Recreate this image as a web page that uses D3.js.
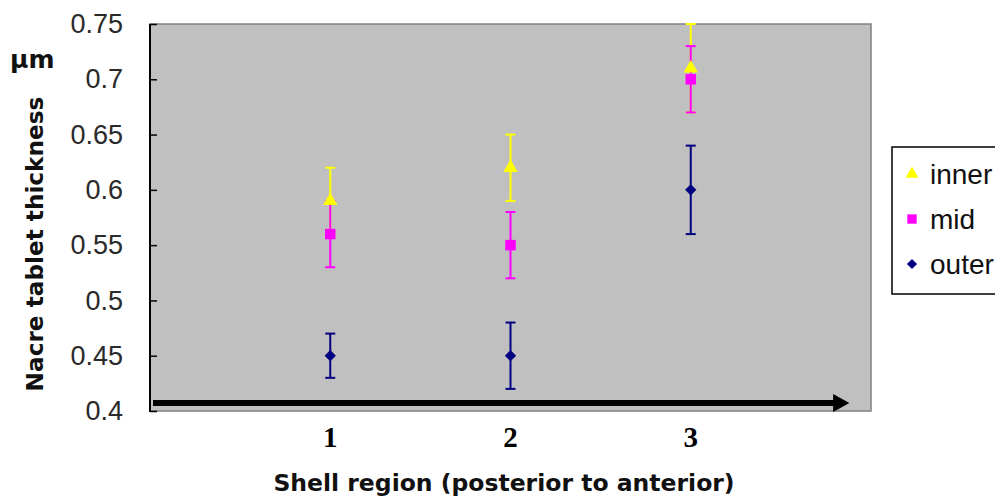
<!DOCTYPE html>
<html>
<head>
<meta charset="utf-8">
<script src="https://cdn.jsdelivr.net/npm/d3@7"></script>
<style>
  body { margin: 0; background: #fff; }
  svg { display: block; }
</style>
</head>
<body>
<svg id="chart" width="995" height="498"></svg>
<script>
// donnees
const regions = [1, 2, 3];
const xLabels = ["1", "2", "3"];
const yTicks = [0.4, 0.45, 0.5, 0.55, 0.6, 0.65, 0.7, 0.75];

const seriesNames = ["inner", "mid", "outer"];
const innerVals = [0.59, 0.62, 0.71];
const innerErr = [0.03, 0.03, 0.04];
const midVals = [0.56, 0.55, 0.70];
const midErr = [0.03, 0.03, 0.03];
const outerVals = [0.45, 0.45, 0.60];
const outerErr = [0.02, 0.03, 0.04];

const colors = ["#ffff00", "#ff00ff", "#000080"];
const symbols = [d3.symbolTriangle, d3.symbolSquare, d3.symbolSquare];
const symSizes = [90, 110, 64];
const symRot = [0, 0, 45]; // losange = carre tourne

// zone du graphe
var margin = {top: 24, right: 124, bottom: 87, left: 150};
var W = 995, H = 498;

const svg = d3.select("#chart");

const x = d3.scaleLinear().domain([0, 4]).range([margin.left, W - margin.right]);
const y = d3.scaleLinear().domain([0.4, 0.75]).range([H - margin.bottom, margin.top]);

// fond gris
svg.append("rect")
  .attr("x", x(0)).attr("y", y(0.75))
  .attr("width", x(4) - x(0)).attr("height", y(0.4) - y(0.75))
  .attr("fill", "#c0c0c0")
  .attr("stroke", "#808080").attr("stroke-width", 1.5);

// axe y, ticks vers l'interieur
const yAxis = svg.append("g")
  .attr("transform", `translate(${x(0)},0)`)
  .call(d3.axisLeft(y).tickValues(yTicks).tickSize(-7).tickPadding(27).tickFormat(d => String(d)));
yAxis.select(".domain").remove();
yAxis.selectAll(".tick line").attr("stroke", "#000").attr("stroke-width", 1.5);
yAxis.selectAll(".tick text")
  .attr("font-family", "'Liberation Sans', Arial, sans-serif")
  .attr("font-size", 27).attr("fill", "#2a2a2a");

svg.append("line")
  .attr("x1", x(0)).attr("x2", x(0))
  .attr("y1", y(0.75)).attr("y2", y(0.4) + 1)
  .attr("stroke", "#000").attr("stroke-width", 2);

// fleche le long de l'axe x
const arrowY = y(0.4) - 8;
svg.append("line")
  .attr("x1", x(0) + 3).attr("x2", x(3.8))
  .attr("y1", arrowY).attr("y2", arrowY)
  .attr("stroke", "#000").attr("stroke-width", 6);
svg.append("path")
  .attr("d", `M${x(3.79)},${arrowY - 9} L${x(3.88)},${arrowY} L${x(3.79)},${arrowY + 9} Z`)
  .attr("fill", "#000");

// labels x
svg.selectAll(".xlab")
  .data(regions)
  .enter()
  .append("text")
  .attr("class", "xlab")
  .attr("x", d => x(d))
  .attr("y", 447)
  .attr("text-anchor", "middle")
  .attr("font-family", "'Liberation Serif', 'Times New Roman', serif")
  .attr("font-weight", "bold")
  .attr("font-size", 29)
  .text((d, i) => xLabels[i]);

svg.append("text")
  .attr("x", 504).attr("y", 491)
  .attr("text-anchor", "middle")
  .attr("font-family", "'DejaVu Sans', sans-serif")
  .attr("font-weight", "bold")
  .attr("font-size", 23.5)
  .attr("fill", "#111")
  .text("Shell region (posterior to anterior)");

svg.append("text")
  .attr("transform", "translate(43,244) rotate(-90)")
  .attr("text-anchor", "middle")
  .attr("font-family", "'DejaVu Sans', sans-serif")
  .attr("font-weight", "bold")
  .attr("font-size", 23.2)
  .attr("fill", "#111")
  .text("Nacre tablet thickness");

svg.append("text")
  .attr("x", 10).attr("y", 68)
  .attr("font-family", "'DejaVu Sans', sans-serif")
  .attr("font-weight", "bold")
  .attr("font-size", 25)
  .attr("fill", "#111")
  .text("µm");

// series
const series = [
  {vals: innerVals, err: innerErr},
  {vals: midVals, err: midErr},
  {vals: outerVals, err: outerErr}
];

const capW = 5;
series.forEach(function(s, k){
  const g = svg.append("g").attr("class", "err-" + seriesNames[k]);
  const pts = regions.map((r, i) => ({r: r, v: s.vals[i], e: s.err[i]}));
  g.selectAll("line.bar").data(pts).enter().append("line")
    .attr("x1", d => x(d.r)).attr("x2", d => x(d.r))
    .attr("y1", d => y(d.v + d.e)).attr("y2", d => y(d.v - d.e))
    .attr("stroke", colors[k]).attr("stroke-width", 2);
  g.selectAll("line.top").data(pts).enter().append("line")
    .attr("x1", d => x(d.r) - capW).attr("x2", d => x(d.r) + capW)
    .attr("y1", d => y(d.v + d.e)).attr("y2", d => y(d.v + d.e))
    .attr("stroke", colors[k]).attr("stroke-width", 2);
  g.selectAll("line.bot").data(pts).enter().append("line")
    .attr("x1", d => x(d.r) - capW).attr("x2", d => x(d.r) + capW)
    .attr("y1", d => y(d.v - d.e)).attr("y2", d => y(d.v - d.e))
    .attr("stroke", colors[k]).attr("stroke-width", 2);
});

series.forEach(function(s, k){
  svg.append("g").selectAll("path")
    .data(regions.map((r, i) => ({r: r, v: s.vals[i]})))
    .enter().append("path")
    .attr("transform", d => `translate(${x(d.r)},${y(d.v)}) rotate(${symRot[k]})`)
    .attr("d", d3.symbol().type(symbols[k]).size(symSizes[k]))
    .attr("fill", colors[k]);
});

// legende
const leg = svg.append("g").attr("transform", "translate(892,147)");
leg.append("rect")
  .attr("width", 120).attr("height", 147)
  .attr("fill", "#fff").attr("stroke", "#000").attr("stroke-width", 1.5);
seriesNames.forEach(function(name, k){
  const yy = 27 + k * 45;
  leg.append("path")
    .attr("transform", `translate(20,${yy}) rotate(${symRot[k]})`)
    .attr("d", d3.symbol().type(symbols[k]).size(symSizes[k] * 0.8))
    .attr("fill", colors[k]);
  leg.append("text")
    .attr("x", 38).attr("y", yy + 10)
    .attr("font-family", "'Liberation Sans', Arial, sans-serif")
    .attr("font-size", 28)
    .attr("fill", "#111")
    .text(name);
});
</script>
</body>
</html>
